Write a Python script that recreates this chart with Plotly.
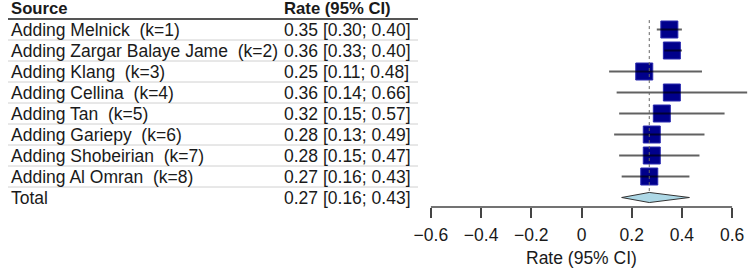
import plotly.graph_objects as go

# ---- data ----
sources = [
    "Adding Melnick\u00a0 (k=1)",
    "Adding Zargar Balaye Jame\u00a0 (k=2)",
    "Adding Klang\u00a0 (k=3)",
    "Adding Cellina\u00a0 (k=4)",
    "Adding Tan\u00a0 (k=5)",
    "Adding Gariepy\u00a0 (k=6)",
    "Adding Shobeirian\u00a0 (k=7)",
    "Adding Al Omran\u00a0 (k=8)",
]
rates = [0.35, 0.36, 0.25, 0.36, 0.32, 0.28, 0.28, 0.27]
lower = [0.30, 0.33, 0.11, 0.14, 0.15, 0.13, 0.15, 0.16]
upper = [0.40, 0.40, 0.48, 0.66, 0.57, 0.49, 0.47, 0.43]
total_label = "Total"
total_rate, total_lower, total_upper = 0.27, 0.16, 0.43
tick_vals = [-0.6, -0.4, -0.2, 0, 0.2, 0.4, 0.6]
tick_text = ["\u22120.6", "\u22120.4", "\u22120.2", "0", "0.2", "0.4", "0.6"]
header_left = "Source"
header_right = "Rate (95% CI)"
axis_title = "Rate (95% CI)"

W, H = 750, 274
FONT = "Liberation Sans, Arial, sans-serif"
TXT = "#1a1a1a"
FS = 17.5

n = len(sources)
rows = list(range(n))
total_row = n

fig = go.Figure()

# study squares
fig.add_trace(go.Scatter(
    x=rates, y=rows, mode="markers",
    marker=dict(symbol="square", size=17, color="#00008B",
                line=dict(color="#2a2ab0", width=1)),
    hoverinfo="skip", showlegend=False))

# CI lines on top
cx, cy = [], []
for lo, hi, r in zip(lower, upper, rows):
    cx += [lo, hi, None]
    cy += [r, r, None]
fig.add_trace(go.Scatter(
    x=cx, y=cy, mode="lines",
    line=dict(color="rgba(0,0,0,0.62)", width=2),
    hoverinfo="skip", showlegend=False))

# summary diamond
dh = 0.24
fig.add_trace(go.Scatter(
    x=[total_lower, total_rate, total_upper, total_rate, total_lower],
    y=[total_row, total_row - dh, total_row, total_row + dh, total_row],
    mode="lines", fill="toself", fillcolor="#ADD8E6",
    line=dict(color="#333333", width=1),
    hoverinfo="skip", showlegend=False))

shapes = []
shapes.append(dict(type="line", xref="x", yref="y",
                   x0=total_rate, x1=total_rate, y0=-0.45, y1=total_row - 0.3,
                   line=dict(color="#666666", width=1, dash="dot")))
shapes.append(dict(type="line", xref="x", yref="paper",
                   x0=tick_vals[0], x1=tick_vals[-1], y0=0, y1=0,
                   line=dict(color="#444444", width=1.5)))
shapes.append(dict(type="line", xref="paper", yref="y",
                   x0=8 / W, x1=418 / W, y0=-0.5, y1=-0.5,
                   line=dict(color="#555555", width=2)))
for i in range(n + 1):
    shapes.append(dict(type="line", xref="paper", yref="y",
                       x0=8 / W, x1=418 / W, y0=i + 0.5, y1=i + 0.5,
                       line=dict(color="#d0d0d0", width=1)))

annotations = []
lab_font = dict(family=FONT, size=FS, color=TXT)
hdr_font = dict(family=FONT, size=16.7, color=TXT, weight="bold")
annotations.append(dict(xref="paper", yref="y", x=9 / W, y=-1, text=header_left,
                        xanchor="left", yanchor="middle", showarrow=False, font=hdr_font))
annotations.append(dict(xref="paper", yref="y", x=282 / W, y=-1, text=header_right,
                        xanchor="left", yanchor="middle", showarrow=False, font=hdr_font))
all_labels = sources + [total_label]
all_rates = rates + [total_rate]
all_lo = lower + [total_lower]
all_hi = upper + [total_upper]
for i, (lab, r, lo, hi) in enumerate(zip(all_labels, all_rates, all_lo, all_hi)):
    annotations.append(dict(xref="paper", yref="y", x=9 / W, y=i, text=lab,
                            xanchor="left", yanchor="middle", showarrow=False, font=lab_font))
    annotations.append(dict(xref="paper", yref="y", x=282 / W, y=i,
                            text=f"{r:.2f} [{lo:.2f}; {hi:.2f}]",
                            xanchor="left", yanchor="middle", showarrow=False, font=lab_font))
annotations.append(dict(xref="x", yref="paper", x=0, y=-51 / 207, text=axis_title,
                        xanchor="center", yanchor="middle", showarrow=False, font=lab_font))

x0v = -581.5 / 251
x1v = (W - 581.5) / 251
plot_bottom = 207
ytop = -29.5 / 21
ybot = (plot_bottom - 29.5) / 21

fig.update_layout(
    width=W, height=H,
    margin=dict(l=0, r=0, t=0, b=H - plot_bottom),
    plot_bgcolor="white", paper_bgcolor="white",
    shapes=shapes, annotations=annotations,
    xaxis=dict(range=[x0v, x1v], showgrid=False, zeroline=False, showline=False,
               tickvals=tick_vals, ticktext=tick_text, ticks="outside",
               ticklen=10, tickwidth=1.5, tickcolor="#444444",
               ticklabelstandoff=2,
               tickfont=dict(family=FONT, size=FS, color=TXT), fixedrange=True),
    yaxis=dict(range=[ybot, ytop], visible=False, fixedrange=True),
)

fig.write_html("out.html", config={"displayModeBar": False},
               post_script="document.body.style.margin='0';document.body.style.overflow='hidden';")
